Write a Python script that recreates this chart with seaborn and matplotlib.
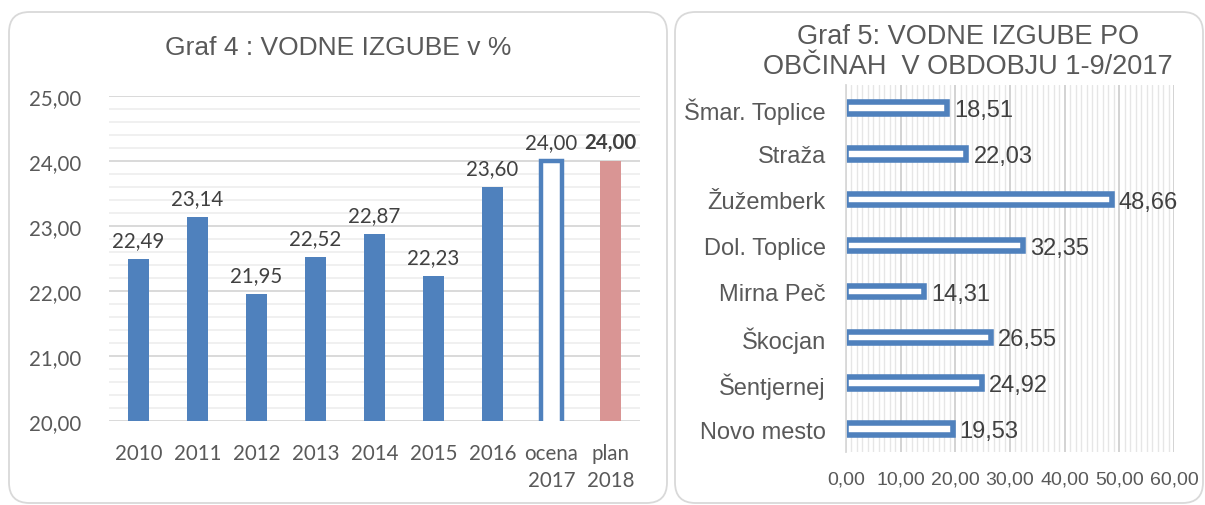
import numpy as np
import matplotlib.pyplot as plt
import seaborn as sns
from matplotlib.patches import FancyBboxPatch
from matplotlib.ticker import MultipleLocator, FuncFormatter

# ============================================================
# DATA
# ============================================================
years = ["2010", "2011", "2012", "2013", "2014", "2015", "2016", "ocena\n2017", "plan\n2018"]
losses = [22.49, 23.14, 21.95, 22.52, 22.87, 22.23, 23.60, 24.00, 24.00]

municipalities = ["Šmar. Toplice", "Straža", "Žužemberk", "Dol. Toplice",
                  "Mirna Peč", "Škocjan", "Šentjernej", "Novo mesto"]
municipal_losses = [18.51, 22.03, 48.66, 32.35, 14.31, 26.55, 24.92, 19.53]

BLUE = "#4f81bd"
PINK = "#d99594"
TXT = "#595959"
DARK = "#404040"


def fmt(v, pos=None):
    return f"{v:.2f}".replace(".", ",")


sns.set_theme(style="white")
plt.rcParams["font.family"] = ["Lato", "DejaVu Sans"]

W, H = 1205, 506
fig = plt.figure(figsize=(W / 100, H / 100), dpi=100)

# rounded panel borders (pixel coords -> figure fraction), behind the axes
for x0, x1 in [(9, 667), (675, 1203)]:
    y0, y1 = 13, 504
    box = FancyBboxPatch((x0 / W, 1 - y1 / H), (x1 - x0) / W, (y1 - y0) / H,
                         boxstyle="round,pad=0,rounding_size=0.017",
                         mutation_aspect=W / H, transform=fig.transFigure,
                         facecolor="white", edgecolor="#d9d9d9", linewidth=1.3,
                         zorder=-5)
    fig.patches.append(box)

# ============================================================
# Graf 4 - vodne izgube v %
# ============================================================
ax1 = fig.add_axes([109 / W, 1 - 422 / H, (640 - 109) / W, (422 - 97) / H])
ax1.patch.set_alpha(0)
palette = [BLUE] * 7 + ["white", PINK]
sns.barplot(x=years, y=losses, hue=years, palette=palette, legend=False,
            width=0.36, saturation=1, ax=ax1)
for i, cont in enumerate(ax1.containers):
    for p in cont:
        if i == 7:
            p.set_edgecolor(BLUE)
            p.set_linewidth(3.2)
        else:
            p.set_linewidth(0)

ax1.set_ylim(20, 25)
ax1.yaxis.set_major_locator(MultipleLocator(1))
ax1.yaxis.set_minor_locator(MultipleLocator(0.2))
ax1.yaxis.set_major_formatter(FuncFormatter(fmt))
ax1.yaxis.grid(True, which="major", color="#d9d9d9", linewidth=1.4)
ax1.yaxis.grid(True, which="minor", color="#f0f0f0", linewidth=1.4)
ax1.set_axisbelow(True)
for s in ax1.spines.values():
    s.set_visible(False)
ax1.tick_params(axis="both", which="both", length=0, labelsize=14.8, labelcolor=TXT)
ax1.tick_params(axis="y", pad=20)
ax1.tick_params(axis="x", pad=16)
plt.setp(ax1.get_xticklabels(), linespacing=1.45)
ax1.set_xlabel("")
ax1.set_ylabel("")

for i, v in enumerate(losses):
    ax1.annotate(fmt(v), (i, v), xytext=(0, 6.5), textcoords="offset points",
                 ha="center", va="bottom", fontsize=14.8, color=DARK,
                 fontweight="bold" if i == len(losses) - 1 else "normal")

fig.text(338.5 / W, 1 - 48 / H, "Graf 4 : VODNE IZGUBE v %", ha="center", va="center",
         fontsize=19, color=TXT, family=["Liberation Sans", "DejaVu Sans"])

# ============================================================
# Graf 5 - vodne izgube po občinah
# ============================================================
ax2 = fig.add_axes([846 / W, 1 - 453 / H, (1174 - 846) / W, (453 - 86) / H])
ax2.patch.set_alpha(0)
sns.barplot(x=municipal_losses, y=municipalities, orient="h", color="white",
            edgecolor=BLUE, linewidth=4, width=0.25, saturation=1, ax=ax2)

ax2.set_xlim(0, 60)
ax2.xaxis.set_major_locator(MultipleLocator(10))
ax2.xaxis.set_minor_locator(MultipleLocator(1))
ax2.xaxis.set_major_formatter(FuncFormatter(fmt))
ax2.xaxis.grid(True, which="major", color="#d0d0d0", linewidth=1.3)
ax2.xaxis.grid(True, which="minor", color="#e6e6e6", linewidth=1.0)
ax2.yaxis.grid(False, which="both")
ax2.set_axisbelow(True)
ax2.set_yticks(np.arange(-0.5, len(municipalities), 1), minor=True)
for name, s in ax2.spines.items():
    s.set_visible(name == "left")
ax2.spines["left"].set_color("#d9d9d9")
ax2.spines["left"].set_linewidth(1.3)
ax2.tick_params(axis="x", which="both", length=0, labelsize=14, labelcolor=TXT, pad=13)
ax2.tick_params(axis="y", which="major", length=0, labelsize=17, labelcolor=TXT, pad=14.5)
ax2.tick_params(axis="y", which="minor", length=4.5, width=1.3, color="#d9d9d9")
for lab in ax2.get_xticklabels() + ax2.get_yticklabels():
    lab.set_family(["Liberation Sans", "DejaVu Sans"])
ax2.set_xlabel("")
ax2.set_ylabel("")

for i, v in enumerate(municipal_losses):
    ax2.annotate(fmt(v), (v, i), xytext=(5, -1.5), textcoords="offset points",
                 ha="left", va="center", fontsize=17, color=DARK,
                 family=["Liberation Sans", "DejaVu Sans"])

fig.text(968 / W, 1 - 52.5 / H, "Graf 5: VODNE IZGUBE PO\nOBČINAH  V OBDOBJU 1-9/2017",
         ha="center", va="center", multialignment="center", linespacing=1.2,
         fontsize=19.5, color=TXT, family=["Liberation Sans", "DejaVu Sans"])

fig.savefig("out.png", dpi=100, facecolor="white")
